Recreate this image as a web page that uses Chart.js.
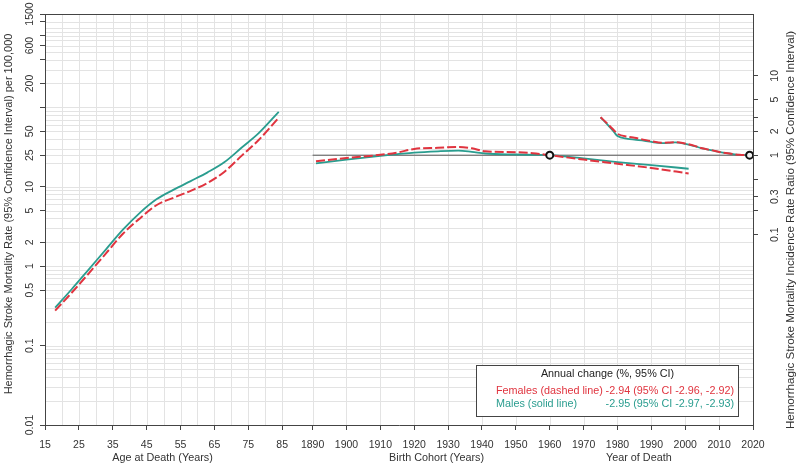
<!DOCTYPE html>
<html lang="en">
<head>
  <meta charset="UTF-8" />
  <title>Hemorrhagic Stroke Mortality - Age, Cohort, Period</title>
  <script src="https://cdn.jsdelivr.net/npm/chart.js"></script>
  <style>
    html, body { margin: 0; padding: 0; background: #ffffff; }
    #wrap { width: 800px; height: 466px; }
  </style>
</head>
<body>
  <div id="wrap"><canvas id="apcChart" width="800" height="466"></canvas></div>

  <script>
    // age effect: rate per 100,000
    const ageYears     = [18, 23, 28, 33, 38, 43, 48, 53, 58, 63, 68, 73, 78, 84];
    const ageMales     = [0.30, 0.52, 0.92, 1.63, 2.88, 4.7, 7.0, 9.2, 11.8, 15.2, 20.5, 31, 47, 88];
    const ageFemales   = [0.276, 0.47, 0.82, 1.45, 2.56, 4.0, 5.9, 7.3, 8.9, 11.2, 15.5, 24.5, 38.5, 74];

    // cohort effect: rate ratio (ref 1960)
    const cohortYears   = [1891, 1900, 1910, 1915, 1920, 1927, 1933, 1937, 1941, 1950, 1955, 1960, 1970, 1980, 1990, 2001];
    const cohortMales   = [0.79, 0.88, 0.98, 1.03, 1.08, 1.12, 1.14, 1.10, 1.05, 1.02, 1.01, 1.0, 0.91, 0.82, 0.75, 0.675];
    const cohortFemales = [0.84, 0.92, 1.01, 1.08, 1.20, 1.24, 1.27, 1.22, 1.12, 1.09, 1.06, 1.0, 0.88, 0.78, 0.69, 0.59];

    // period effect: rate ratio (ref 2019)
    const periodYears   = [1975, 1977, 1979, 1980, 1983, 1985, 1988, 1990, 1993, 1995, 1997, 2000, 2003, 2005, 2008, 2010, 2013, 2016, 2019];
    const periodMales   = [3.0, 2.45, 1.95, 1.74, 1.61, 1.57, 1.52, 1.47, 1.42, 1.43, 1.45, 1.39, 1.29, 1.22, 1.15, 1.10, 1.05, 1.01, 1.0];
    const periodFemales = [3.0, 2.5, 2.05, 1.86, 1.71, 1.66, 1.56, 1.50, 1.43, 1.44, 1.46, 1.40, 1.30, 1.22, 1.15, 1.10, 1.05, 1.01, 1.0];

    const refYears = [1960, 2019];

    const ageTicks    = [15, 25, 35, 45, 55, 65, 75, 85];
    const calTicks    = [1890, 1900, 1910, 1920, 1930, 1940, 1950, 1960, 1970, 1980, 1990, 2000, 2010, 2020];
    const rateTicks   = [0.01, 0.1, 0.5, 1, 2, 5, 10, 25, 50, 100, 200, 400, 600, 800, 1200, 1500];
    const rateLabels  = [0.01, 0.1, 0.5, 1, 2, 5, 10, 25, 50, 200, 600, 1500];
    const ratioTicks  = [0.1, 0.2, 0.3, 0.5, 1, 2, 3, 5, 10];
    const ratioLabels = [0.1, 0.3, 1, 2, 5, 10];

    const RED = '#e0343f';
    const TEAL = '#2a9d8f';
    const FONT = '"Liberation Sans", Arial, sans-serif';
    const RATE_AT_RR1 = 25;   // rate value lined up with RR = 1

    // one horizontal axis: age block, then calendar time (cohort + period)
    const ageToX = a => a - 15;
    const calToX = y => y - 1811;

    const xTickValues = ageTicks.map(ageToX).concat(calTicks.map(calToX));
    const xTickLabels = ageTicks.map(String).concat(calTicks.map(String));

    const pts = (xs, ys, f) => xs.map((v, i) => ({ x: f(v), y: ys[i] }));

    const apcFrame = {
      id: 'apcFrame',
      beforeDraw(chart) {
        const { ctx, chartArea: a, scales } = chart;
        const x = scales.x, y = scales.y;
        ctx.save();
        ctx.fillStyle = '#fff';
        ctx.fillRect(0, 0, chart.width, chart.height);
        ctx.strokeStyle = '#e3e3e3';
        ctx.lineWidth = 1;
        // horizontal log grid
        const hv = [];
        for (let n = -2; n <= 3; n++) {
          for (let k = 1; k <= 9; k++) hv.push(k * Math.pow(10, n));
        }
        hv.concat(rateTicks).forEach(v => {
          if (v < 0.01 || v > 1500) return;
          const py = Math.round(y.getPixelForValue(v)) + 0.5;
          ctx.beginPath(); ctx.moveTo(a.left, py); ctx.lineTo(a.right, py); ctx.stroke();
        });
        // vertical grid
        const vv = [];
        for (let g = 15; g <= 85; g += 5) vv.push(ageToX(g));
        for (let g = 1890; g <= 2020; g += 10) vv.push(calToX(g));
        vv.forEach(v => {
          const px = Math.round(x.getPixelForValue(v)) + 0.5;
          ctx.beginPath(); ctx.moveTo(px, a.top); ctx.lineTo(px, a.bottom); ctx.stroke();
        });
        ctx.restore();
      },
      afterDraw(chart) {
        const { ctx, chartArea: a, scales } = chart;
        const x = scales.x, y = scales.y, y2 = scales.y2;
        ctx.save();
        // top border
        ctx.strokeStyle = '#444';
        ctx.lineWidth = 1;
        ctx.beginPath(); ctx.moveTo(a.left, a.top + 0.5); ctx.lineTo(a.right, a.top + 0.5); ctx.stroke();

        const vText = (txt, px, py) => {
          ctx.save();
          ctx.translate(px, py);
          ctx.rotate(-Math.PI / 2);
          ctx.fillText(txt, 0, 0);
          ctx.restore();
        };
        ctx.textAlign = 'center';
        ctx.textBaseline = 'middle';
        ctx.fillStyle = '#333';
        ctx.font = '10.5px ' + FONT;
        rateLabels.forEach(v => vText(String(v), 30, y.getPixelForValue(v)));
        ratioLabels.forEach(v => vText(String(v), 775, y2.getPixelForValue(v)));

        ctx.font = '11px ' + FONT;
        vText('Hemorrhagic Stroke Mortality Rate (95% Confidence Interval) per 100,000', 9, 214);
        ctx.font = '11.6px ' + FONT;
        vText('Hemorrhagic Stroke Mortality Incidence Rate Ratio (95% Confidence Interval)', 791, 230);

        ctx.font = '10.8px ' + FONT;
        ctx.fillText('Age at Death (Years)', x.getPixelForValue(ageToX(49.7)), 458);
        ctx.fillText('Birth Cohort (Years)', x.getPixelForValue(calToX(1926.6)), 458);
        ctx.fillText('Year of Death', x.getPixelForValue(calToX(1986.3)), 458);

        // annual change box
        ctx.fillStyle = '#fff';
        ctx.fillRect(476, 365, 262, 52);
        ctx.strokeStyle = '#444';
        ctx.strokeRect(476.5, 365.5, 262, 51);
        ctx.font = '10.8px ' + FONT;
        ctx.fillStyle = '#222';
        ctx.fillText('Annual change (%, 95% CI)', 607.5, 374.5);
        ctx.textAlign = 'left';
        ctx.fillStyle = RED;
        ctx.fillText('Females (dashed line)', 496, 391);
        ctx.fillStyle = TEAL;
        ctx.fillText('Males (solid line)', 496, 404.5);
        ctx.textAlign = 'right';
        ctx.fillStyle = RED;
        ctx.fillText('-2.94 (95% CI -2.96, -2.92)', 734, 391);
        ctx.fillStyle = TEAL;
        ctx.fillText('-2.95 (95% CI -2.97, -2.93)', 734, 404.5);
        ctx.restore();
      }
    };

    const lineStyle = (color, dashed) => ({
      borderColor: color,
      borderWidth: dashed ? 2 : 1.8,
      borderDash: dashed ? [9, 3] : [],
      pointRadius: 0,
      fill: false,
      cubicInterpolationMode: 'monotone'
    });

    const datasets = [
      Object.assign({ data: pts(ageYears, ageFemales, ageToX), yAxisID: 'y', order: 1 }, lineStyle(RED, true)),
      Object.assign({ data: pts(cohortYears, cohortFemales, calToX), yAxisID: 'y2', order: 1 }, lineStyle(RED, true)),
      Object.assign({ data: pts(periodYears, periodFemales, calToX), yAxisID: 'y2', order: 1 }, lineStyle(RED, true)),
      Object.assign({ data: pts(ageYears, ageMales, ageToX), yAxisID: 'y', order: 2 }, lineStyle(TEAL, false)),
      Object.assign({ data: pts(cohortYears, cohortMales, calToX), yAxisID: 'y2', order: 2 }, lineStyle(TEAL, false)),
      Object.assign({ data: pts(periodYears, periodMales, calToX), yAxisID: 'y2', order: 2 }, lineStyle(TEAL, false)),
      {
        data: [{ x: calToX(1890), y: 1 }, { x: calToX(2020), y: 1 }],
        yAxisID: 'y2', order: 3,
        borderColor: '#555', borderWidth: 1, pointRadius: 0
      },
      {
        data: refYears.map(v => ({ x: calToX(v), y: 1 })),
        yAxisID: 'y2', order: 0, showLine: false,
        pointRadius: 3.5, pointBorderWidth: 2,
        pointBorderColor: '#111', pointBackgroundColor: '#f2f2f2'
      }
    ];

    new Chart(document.getElementById('apcChart').getContext('2d'), {
      type: 'line',
      data: { datasets },
      options: {
        responsive: false,
        animation: false,
        events: [],
        layout: { padding: { top: 14, left: 0, right: 0, bottom: 0 } },
        plugins: { legend: { display: false }, tooltip: { enabled: false } },
        scales: {
          x: {
            type: 'linear',
            min: 0,
            max: calToX(2020),
            afterBuildTicks: s => { s.ticks = xTickValues.map(v => ({ value: v })); },
            afterFit: s => { s.height = 41; },
            ticks: {
              autoSkip: false, maxRotation: 0, padding: 9,
              color: '#333', font: { family: FONT, size: 10.5 },
              callback: (v, i) => xTickLabels[i]
            },
            grid: { drawOnChartArea: false, drawTicks: true, tickLength: 5, color: '#444' },
            border: { display: true, color: '#444' }
          },
          y: {
            type: 'logarithmic',
            position: 'left',
            min: 0.01,
            max: 1500,
            afterBuildTicks: s => { s.ticks = rateTicks.map(v => ({ value: v })); },
            afterFit: s => { s.width = 45; },
            ticks: { display: false },
            grid: { drawOnChartArea: false, drawTicks: true, tickLength: 5, color: '#444' },
            border: { display: true, color: '#444' }
          },
          y2: {
            type: 'logarithmic',
            position: 'right',
            min: 0.01 / RATE_AT_RR1,
            max: 1500 / RATE_AT_RR1,
            afterBuildTicks: s => { s.ticks = ratioTicks.map(v => ({ value: v })); },
            afterFit: s => { s.width = 47; },
            ticks: { display: false },
            grid: { drawOnChartArea: false, drawTicks: true, tickLength: 5, color: '#444' },
            border: { display: true, color: '#444' }
          }
        }
      },
      plugins: [apcFrame]
    });
  </script>
</body>
</html>
